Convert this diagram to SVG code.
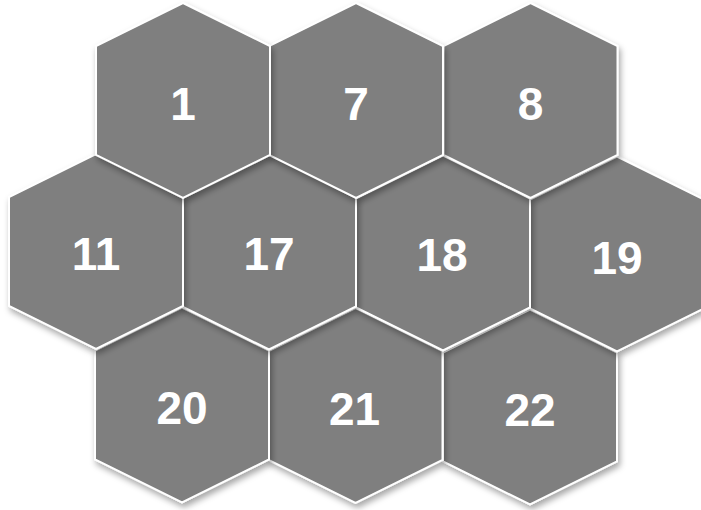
<svg xmlns="http://www.w3.org/2000/svg" xmlns:xlink="http://www.w3.org/1999/xlink" width="701" height="510" viewBox="0 0 701 510">
<style>
.hex{fill:#7f7f7f;stroke:#ffffff;stroke-width:2;stroke-linejoin:miter}
.lbl{font-family:"Liberation Sans",Arial,sans-serif;font-weight:bold;font-size:46px;fill:#ffffff;text-anchor:middle}
</style>
<defs>
<filter id="sh" x="-20%" y="-20%" width="140%" height="140%">
<feDropShadow dx="2" dy="4" stdDeviation="3" flood-color="#000000" flood-opacity="0.35"/>
</filter>
<polygon id="h" points="0,-97.5 87,-54.5 87,54.5 0,97.5 -87,54.5 -87,-54.5"/>
</defs>
<rect width="701" height="510" fill="#ffffff"/>
<g id="node22"><use xlink:href="#h" class="hex" filter="url(#sh)" transform="translate(530,407)"/><text class="lbl" x="530" y="426">22</text></g>
<g id="node21"><use xlink:href="#h" class="hex" filter="url(#sh)" transform="translate(355.5,405.5)"/><text class="lbl" x="354.5" y="424.5">21</text></g>
<g id="node20"><use xlink:href="#h" class="hex" filter="url(#sh)" transform="translate(182,405)"/><text class="lbl" x="182" y="424">20</text></g>
<g id="node19"><use xlink:href="#h" class="hex" filter="url(#sh)" transform="translate(617,254)"/><text class="lbl" x="617" y="274">19</text></g>
<g id="node18"><use xlink:href="#h" class="hex" filter="url(#sh)" transform="translate(443,253)"/><text class="lbl" x="442" y="271">18</text></g>
<g id="node17"><use xlink:href="#h" class="hex" filter="url(#sh)" transform="translate(269,252)"/><text class="lbl" x="269" y="270">17</text></g>
<g id="node11"><use xlink:href="#h" class="hex" filter="url(#sh)" transform="translate(96,251.5)"/><text class="lbl" x="96" y="269.5">11</text></g>
<g id="node8"><use xlink:href="#h" class="hex" filter="url(#sh)" transform="translate(530.5,100.5)"/><text class="lbl" x="530.5" y="119.5">8</text></g>
<g id="node7"><use xlink:href="#h" class="hex" filter="url(#sh)" transform="translate(356,100.5)"/><text class="lbl" x="356" y="119.5">7</text></g>
<g id="node1"><use xlink:href="#h" class="hex" filter="url(#sh)" transform="translate(183,100.5)"/><text class="lbl" x="183" y="120">1</text></g>
<g id="connectors"/>
</svg>
